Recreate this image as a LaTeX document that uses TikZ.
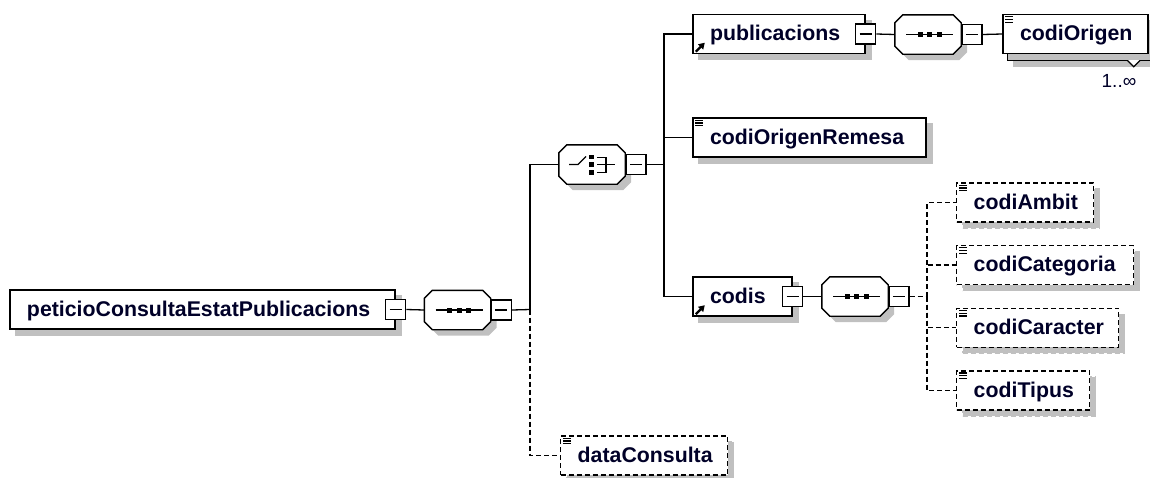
\documentclass[tikz,border=0pt]{standalone}
\usepackage{fontspec}
\setmainfont{Liberation Sans}
\usetikzlibrary{arrows.meta,calc}
\definecolor{shadowgray}{RGB}{192,192,192}
\definecolor{txt}{RGB}{0,0,40}
\tikzset{
  shadowed/.style={preaction={fill=shadowgray, draw=shadowgray, transform canvas={xshift=6pt,yshift=-6pt}}},
  elem/.style={shadowed, rectangle, draw=black, fill=white, line width=1.4pt,
    inner xsep=0pt, inner ysep=0pt, text width=#1, align=left, minimum height=39pt,
    text height=13.5pt, text depth=0pt, text=txt,
    font=\bfseries\fontsize{21.3}{24}\selectfont},
  optelem/.style={elem=#1, dash pattern=on 5pt off 3pt},
  minusbox/.style={rectangle, draw=black, fill=white, line width=1.3pt, minimum size=20pt, inner sep=0pt,
    path picture={\draw[line width=1.3pt] ([xshift=4pt]path picture bounding box.west) -- ([xshift=-4pt]path picture bounding box.east);}},
  octa/.style={rectangle, minimum width=66pt, minimum height=39pt, inner sep=0pt},
  octline/.style={line width=1.4pt, draw=black, fill=white},
  octshadow/.style={fill=shadowgray, transform canvas={xshift=6pt,yshift=-6pt}},
  conn/.style={line width=1.3pt, black},
  optconn/.style={conn, dash pattern=on 5pt off 3pt},
  refarrow/.style={line width=2.2pt, -{Triangle[length=6pt,width=7pt]}},
  icline/.style={line width=1.3pt}
}
\newcommand\octpath[1]{($(#1.north west)+(8,0)$) -- ($(#1.north east)+(-8,0)$) -- ($(#1.north east)+(0,8)$) -- ($(#1.south east)+(0,-8)$) -- ($(#1.south east)+(-8,0)$) -- ($(#1.south west)+(8,0)$) -- ($(#1.south west)+(0,-8)$) -- ($(#1.north west)+(0,8)$) -- cycle}
\newcommand\octdraw[1]{%
  \path[octshadow] \octpath{#1};
  \path[octline] \octpath{#1};}
\newcommand\seqsym[1]{%
  \draw[conn] ($(#1.center)+(-22,0)$) -- ($(#1.center)+(25,0)$);
  \foreach \dx in {-8,1.5,11}{\fill ($(#1.center)+(\dx-2.5,-2.5)$) rectangle +(5,5);}}
\newcommand\simpicon[1]{%
  \foreach \dy in {3,5.7,8.4}{\draw[icline] ($(#1.north west)+(3,\dy)$) -- +(8,0);}}
\begin{document}
\begin{tikzpicture}[x=1pt,y=-1pt]
\useasboundingbox (0,0) rectangle (1150,477);

% root
\node[elem=385pt] (root) at (202.5,309.5) {\hspace*{17pt}\mbox{peticioConsultaEstatPublicacions}};
\node[minusbox] (rootm) at (root.east) {};
\node[octa] (seq1) at (457.5,310) {};
\octdraw{seq1}
\seqsym{seq1}
\node[minusbox, anchor=west] (seq1m) at (seq1.east) {};
\coordinate (j1) at (530,309.5);

% choice
\node[octa] (choice) at (592,164.5) {};
\octdraw{choice}
\draw[conn] (choice.center) +(-23,0) -- +(-14,0) -- +(-6,-8);
\fill ($(choice.center)+(-3,-10)$) rectangle +(5,4.5);
\fill ($(choice.center)+(-3,-2.5)$) rectangle +(5,5);
\fill ($(choice.center)+(-3,5.5)$) rectangle +(5,4.5);
\draw[conn] (choice.center) +(5,-7) -- +(14,-7) -- +(14,8) -- +(5,8);
\draw[conn] (choice.center) +(5,0) -- +(23,0);
\node[minusbox, anchor=west] (choicem) at (choice.east) {};
\coordinate (j2) at (664,164.5);

% publicacions
\node[elem=172pt] (publ) at (779,34) {\hspace*{17pt}\mbox{publicacions}};
\draw[refarrow] ($(publ.south west)+(3.5,-2.5)$) -- +(9,-9);
\node[minusbox] (publm) at (publ.east) {};
\node[octa] (seq2) at (928,34.5) {};
\octdraw{seq2}
\seqsym{seq2}
\node[minusbox, anchor=west] (seq2m) at (seq2.east) {};
\node[elem=145pt] (origenb) at (1080.5,40.5) {};
\fill[white] ($(origenb.south east)+(-28,-2)$) -- ($(origenb.south east)+(-20,6)$) -- ($(origenb.south east)+(-12,-2)$) -- cycle;
\draw[line width=1.2pt] ($(origenb.south east)+(-28,-2)$) -- ($(origenb.south east)+(-20,6)$) -- ($(origenb.south east)+(-12,-2)$);
\node[elem=145pt] (origen) at (1075.5,34) {\hspace*{17pt}\mbox{codiOrigen}};
\simpicon{origen}
\node[text=txt, font=\fontsize{19}{22}\selectfont] (occ) at (1119,81) {1..∞};

% codiOrigenRemesa
\node[elem=233pt] (remesa) at (809.5,137.5) {\hspace*{17pt}\mbox{codiOrigenRemesa}};
\simpicon{remesa}

% codis
\node[elem=99pt] (codis) at (742.5,296.5) {\hspace*{17pt}\mbox{codis}};
\draw[refarrow] ($(codis.south west)+(3.5,-2.5)$) -- +(9,-9);
\node[minusbox] (codism) at (codis.east) {};
\node[octa] (seq3) at (855,296.5) {};
\octdraw{seq3}
\seqsym{seq3}
\node[minusbox, anchor=west] (seq3m) at (seq3.east) {};
\coordinate (j3) at (927,296.5);

% children of codis
\node[optelem=137pt, anchor=west] (ambit) at (956,202.5) {\hspace*{17pt}\mbox{codiAmbit}};
\simpicon{ambit}
\node[optelem=177pt, anchor=west] (categ) at (956,265) {\hspace*{17pt}\mbox{codiCategoria}};
\simpicon{categ}
\node[optelem=162pt, anchor=west] (caract) at (956,327.7) {\hspace*{17pt}\mbox{codiCaracter}};
\simpicon{caract}
\node[optelem=133pt, anchor=west] (tipus) at (956,390.3) {\hspace*{17pt}\mbox{codiTipus}};
\simpicon{tipus}

% dataConsulta
\node[optelem=167pt, anchor=west] (datac) at (560,455.5) {\hspace*{17pt}\mbox{dataConsulta}};
\simpicon{datac}

% connectors
\draw[conn] (rootm.east) -- (seq1.west);
\draw[conn] (seq1m.east) -- (j1);
\draw[conn] (j1) |- (choice.west);
\draw[optconn] (j1) |- (datac.west);
\draw[conn] (choicem.east) -- (j2);
\draw[conn] (j2) |- (publ.west);
\draw[conn] (j2) |- (remesa.west);
\draw[conn] (j2) |- (codis.west);
\draw[conn] (publm.east) -- (seq2.west);
\draw[conn] (seq2m.east) -- (origen.west);
\draw[conn] (codism.east) -- (seq3.west);
\draw[optconn] (seq3m.east) -- (j3);
\draw[optconn] (j3) |- (ambit.west);
\draw[optconn] (j3) |- (categ.west);
\draw[optconn] (j3) |- (caract.west);
\draw[optconn] (j3) |- (tipus.west);
\end{tikzpicture}
\end{document}
